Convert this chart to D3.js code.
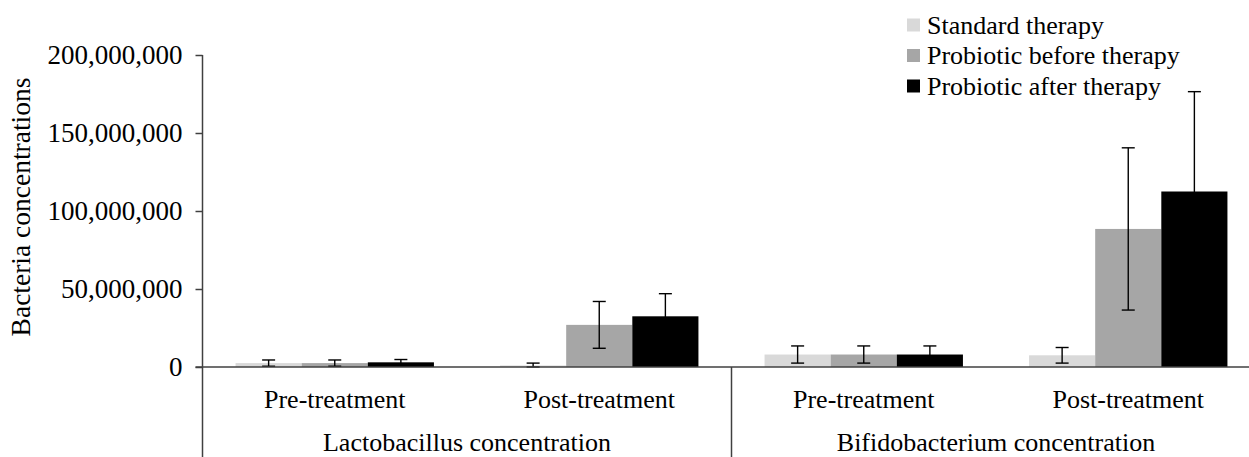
<!DOCTYPE html>
<html><head><meta charset="utf-8">
<script src="https://cdn.jsdelivr.net/npm/d3@7"></script>
<style>html,body{margin:0;padding:0;background:#fff;overflow:hidden}
svg text{font-family:"Liberation Serif","Times New Roman",Times,"DejaVu Serif",serif;}</style>
</head><body>
<svg id="chart" width="1249" height="457"></svg>
<script>
const groups = ["Lactobacillus concentration", "Bifidobacterium concentration"];
const phases = ["Pre-treatment", "Post-treatment"];
const seriesNames = ["Standard therapy", "Probiotic before therapy", "Probiotic after therapy"];
const seriesColors = ["#d9d9d9", "#a6a6a6", "#000000"];
const standardVals = [2500000, 1000000, 8000000, 7500000];
const beforeVals   = [2500000, 27000000, 8000000, 88500000];
const afterVals    = [3000000, 32500000, 8000000, 112500000];
const standardErr  = [2000000, 1500000, 5500000, 5000000];
const beforeErr    = [2000000, 15000000, 5500000, 52000000];
const afterErr     = [1800000, 14500000, 5500000, 64000000];
const yTicks = [0, 50000000, 100000000, 150000000, 200000000];
const yTitle = "Bacteria concentrations";

const svg = d3.select("#chart");
const left = 202.5, catW = 264.5, y0 = 367, yTop = 55;

const cats = [];
groups.forEach((g, gi) => phases.forEach((p, pi) => cats.push({id: gi + "-" + pi, g, p})));
const x0 = d3.scaleBand().domain(cats.map(c => c.id)).range([left, left + catW * cats.length]).padding(0);
const x1 = d3.scaleBand().domain(seriesNames).range([0, x0.bandwidth()]).paddingInner(0).paddingOuter(0.5);
const y = d3.scaleLinear().domain([0, 200000000]).range([y0, yTop]);

const vals = [standardVals, beforeVals, afterVals];
const errs = [standardErr, beforeErr, afterErr];
const data = [];
cats.forEach((c, ci) => seriesNames.forEach((s, si) => data.push({cat: c.id, s, si, v: vals[si][ci], e: errs[si][ci]})));

// bars
svg.append("g").selectAll("rect").data(data).join("rect")
  .attr("x", d => x0(d.cat) + x1(d.s))
  .attr("y", d => y(d.v))
  .attr("width", x1.bandwidth())
  .attr("height", d => y0 - y(d.v))
  .attr("fill", d => seriesColors[d.si]);

// error bars
const eg = svg.append("g").attr("stroke", "#000").attr("stroke-width", 1.4);
data.forEach(d => {
  const cx = x0(d.cat) + x1(d.s) + x1.bandwidth() / 2;
  const hi = y(d.v + d.e), lo = y(Math.max(0, d.v - d.e));
  eg.append("line").attr("x1", cx).attr("x2", cx).attr("y1", hi).attr("y2", lo);
  eg.append("line").attr("x1", cx - 6.5).attr("x2", cx + 6.5).attr("y1", hi).attr("y2", hi);
  eg.append("line").attr("x1", cx - 6.5).attr("x2", cx + 6.5).attr("y1", lo).attr("y2", lo);
});

// y axis
const yAxis = d3.axisLeft(y).tickValues(yTicks).tickSize(7).tickPadding(13)
  .tickFormat(d3.format(","));
const ya = svg.append("g").attr("transform", `translate(${left},0)`).call(yAxis);
ya.attr("font-family", null).attr("font-size", null);
ya.select(".domain").remove();
ya.selectAll(".tick line").attr("stroke", "#404040").attr("stroke-width", 1.5);
ya.selectAll(".tick text").attr("font-size", 27).attr("fill", "#000");
svg.append("line").attr("x1", left).attr("x2", left).attr("y1", yTop).attr("y2", 457)
  .attr("stroke", "#404040").attr("stroke-width", 1.5);

// x axis line
svg.append("line").attr("x1", left - 7).attr("x2", left + catW * cats.length).attr("y1", y0).attr("y2", y0)
  .attr("stroke", "#404040").attr("stroke-width", 1.5);

// group dividers
groups.forEach((g, gi) => {
  if (gi > 0) {
    const xx = x0(gi + "-0");
    svg.append("line").attr("x1", xx).attr("x2", xx).attr("y1", y0).attr("y2", 457)
      .attr("stroke", "#404040").attr("stroke-width", 1.5);
  }
});

// category labels
svg.append("g").selectAll("text").data(cats).join("text")
  .attr("x", c => x0(c.id) + x0.bandwidth() / 2).attr("y", 408)
  .attr("text-anchor", "middle").attr("font-size", 26)
  .text(c => c.p);
svg.append("g").selectAll("text").data(groups).join("text")
  .attr("x", (g, gi) => x0(gi + "-0") + x0.bandwidth())
  .attr("y", 451)
  .attr("text-anchor", "middle").attr("font-size", 26)
  .text(g => g);

// y title
svg.append("text").attr("transform", "translate(30,207) rotate(-90)")
  .attr("text-anchor", "middle").attr("font-size", 27.5)
  .text(yTitle);

// legend
const lg = svg.append("g");
seriesNames.forEach((s, i) => {
  const cy = 25 + i * 30.5;
  lg.append("rect").attr("x", 907).attr("y", cy - 6.5).attr("width", 13).attr("height", 13).attr("fill", seriesColors[i]);
  lg.append("text").attr("x", 927).attr("y", cy + 8.5).attr("font-size", 26).text(s);
});
</script>
</body></html>
